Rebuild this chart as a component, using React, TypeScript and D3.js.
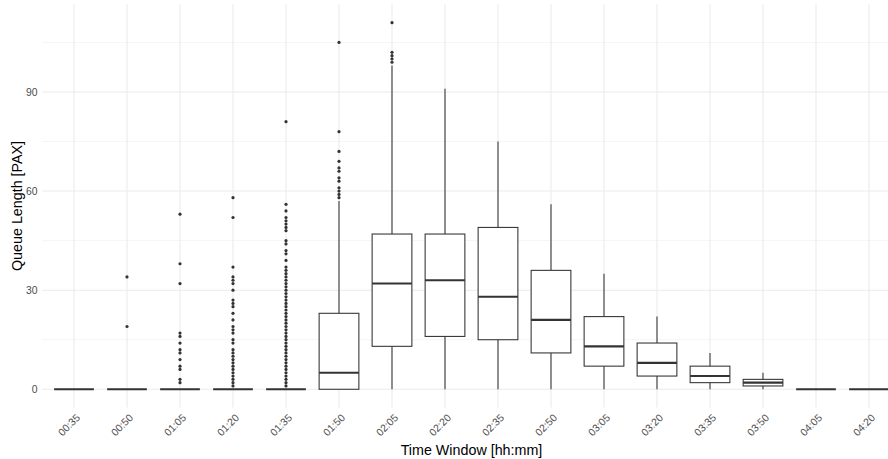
import React from 'react';
import * as d3 from 'd3';

// Time windows on the x axis
const timeWindows = ['00:35', '00:50', '01:05', '01:20', '01:35', '01:50', '02:05', '02:20',
  '02:35', '02:50', '03:05', '03:20', '03:35', '03:50', '04:05', '04:20'];

// Box statistics per time window (queue length, PAX)
const lowerWhisker = [0, 0, 0, 0, 0, 0, 0, 0, 0, 0, 0, 0, 0, 0, 0, 0];
const q1Values = [0, 0, 0, 0, 0, 0, 13, 16, 15, 11, 7, 4, 2, 1, 0, 0];
const medianValues = [0, 0, 0, 0, 0, 5, 32, 33, 28, 21, 13, 8, 4, 2, 0, 0];
const q3Values = [0, 0, 0, 0, 0, 23, 47, 47, 49, 36, 22, 14, 7, 3, 0, 0];
const upperWhisker = [0, 0, 0, 0, 0, 57, 98, 91, 75, 56, 35, 22, 11, 5, 0, 0];

// Outliers per time window
const outliers0050 = [34, 19];
const outliers0105 = [53, 38, 32, 17, 16, 14, 12, 11, 9, 7, 6, 3, 2];
const outliers0120 = [58, 52, 37, 34, 33, 32, 30, 27, 26, 25, 23, 21, 19, 18, 17, 15, 14, 12, 11, 10,
  9, 8, 7, 6, 5, 4, 3, 2, 1];
const outliers0135 = [81, 56, 54, 52, 51, 50, 49, 48, 45, 44, 42, 41, 39, 37, 36, 35, 34, 33, 32, 31,
  30, 29, 28, 27, 26, 25, 24, 23, 22, 21, 20, 19, 18, 17, 16, 15, 14, 13, 12, 11, 10, 9, 8, 7, 6, 5,
  4, 3, 2, 1];
const outliers0150 = [105, 78, 72, 69, 67, 66, 64, 63, 61, 60, 59, 58];
const outliers0205 = [111, 102, 101, 100, 99];
const outliers = [[], outliers0050, outliers0105, outliers0120, outliers0135, outliers0150, outliers0205,
  [], [], [], [], [], [], [], [], []];

const yMajor = [0, 30, 60, 90];
const yMinor = [15, 45, 75, 105];

const width = 888;
const height = 459;
const panel = { left: 42.2, right: 900.8, top: 4.3, bottom: 407.6 };
const font = 'Liberation Sans, Arial, sans-serif';

export default function App() {
  const x = d3.scalePoint<string>()
    .domain(timeWindows)
    .range([panel.left, panel.right])
    .padding(0.6);
  const y = d3.scaleLinear()
    .domain([-5.55, 116.55])
    .range([panel.bottom, panel.top]);
  const boxW = x.step() * 0.75;

  return (
    <div style={{ position: 'absolute', left: 0, top: 0 }}>
      <svg width={width} height={height} style={{ display: 'block', background: '#fff' }}>
        {/* grid */}
        {yMinor.map(v => (
          <line key={'mi' + v} x1={panel.left} x2={panel.right} y1={y(v)} y2={y(v)}
            stroke="#EBEBEB" strokeWidth={0.55} />
        ))}
        {yMajor.map(v => (
          <line key={'ma' + v} x1={panel.left} x2={panel.right} y1={y(v)} y2={y(v)}
            stroke="#EBEBEB" strokeWidth={1.07} />
        ))}
        {timeWindows.map(t => (
          <line key={'vx' + t} x1={x(t)} x2={x(t)} y1={panel.top} y2={panel.bottom}
            stroke="#EBEBEB" strokeWidth={1.07} />
        ))}

        {/* boxes */}
        {timeWindows.map((t, i) => {
          const cx = x(t)!;
          return (
            <g key={'b' + t}>
              <line x1={cx} x2={cx} y1={y(q3Values[i])} y2={y(upperWhisker[i])} stroke="#333333" strokeWidth={1.07} />
              <line x1={cx} x2={cx} y1={y(q1Values[i])} y2={y(lowerWhisker[i])} stroke="#333333" strokeWidth={1.07} />
              <rect x={cx - boxW / 2} y={y(q3Values[i])} width={boxW}
                height={y(q1Values[i]) - y(q3Values[i])} fill="#fff" stroke="#333333" strokeWidth={1.07} />
              <line x1={cx - boxW / 2} x2={cx + boxW / 2} y1={y(medianValues[i])} y2={y(medianValues[i])}
                stroke="#333333" strokeWidth={2.1} />
              {outliers[i].map((v, j) => (
                <circle key={j} cx={cx} cy={y(v)} r={1.6} fill="#333333" />
              ))}
            </g>
          );
        })}

        {/* y axis labels */}
        {yMajor.map(v => (
          <text key={'yl' + v} x={37.5} y={y(v)} dy="0.36em" textAnchor="end"
            fontFamily={font} fontSize={10.4} fill="#4D4D4D">{v}</text>
        ))}

        {/* x axis labels */}
        {timeWindows.map(t => (
          <text key={'xl' + t} transform={`translate(${x(t)! + 1.5},${413}) rotate(-45)`}
            dy="0.72em" textAnchor="end" fontFamily={font} fontSize={10.4} fill="#4D4D4D">{t}</text>
        ))}

        {/* axis titles */}
        <text x={(panel.left + panel.right) / 2} y={455} textAnchor="middle"
          fontFamily={font} fontSize={14.3} fill="#000">Time Window [hh:mm]</text>
        <text transform={`translate(22,${(panel.top + panel.bottom) / 2}) rotate(-90)`} textAnchor="middle"
          fontFamily={font} fontSize={14.3} fill="#000">Queue Length [PAX]</text>
      </svg>
    </div>
  );
}
